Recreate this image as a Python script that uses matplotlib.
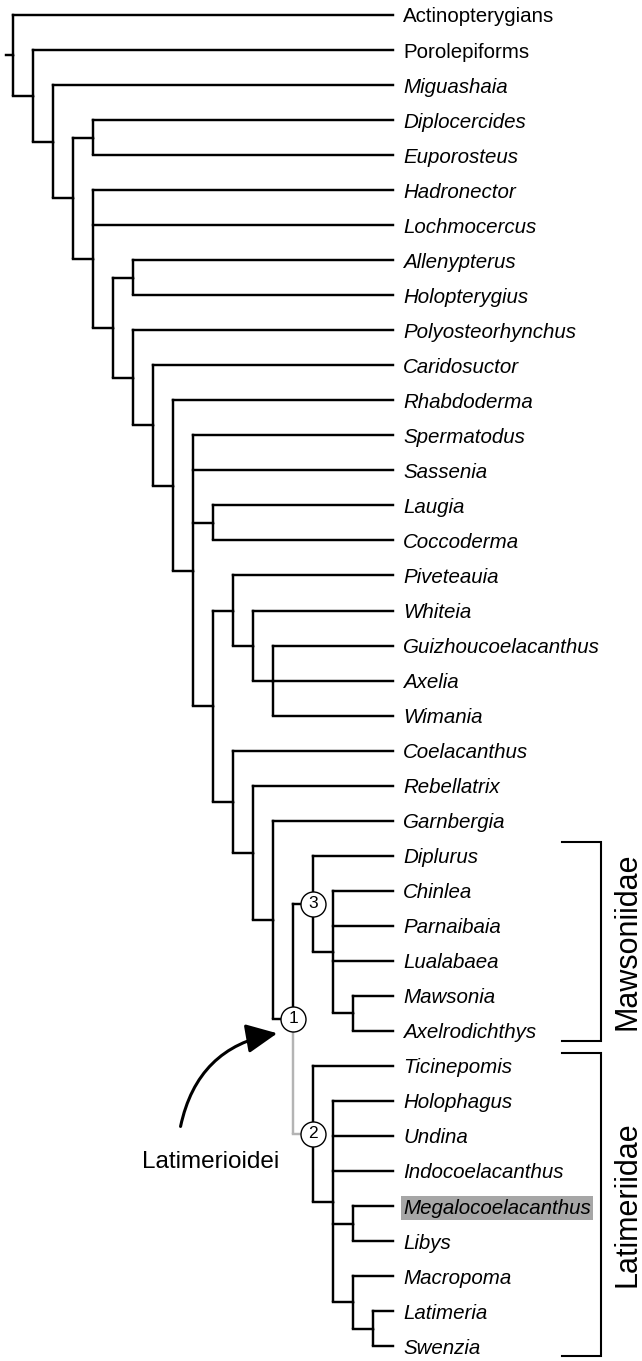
"""Coelacanth cladogram with Latimerioidei nodes circled."""
import matplotlib
matplotlib.use("Agg")
import matplotlib.pyplot as plt
from matplotlib.patches import FancyArrowPatch

plt.rcParams["font.family"] = ["Liberation Sans", "DejaVu Sans"]

# ----- tree topology (nested lists, leaves are taxon names) -----
mawsoniids = ["Diplurus",
              ["Chinlea", "Parnaibaia", "Lualabaea", ["Mawsonia", "Axelrodichthys"]]]
latimeriids = ["Ticinepomis",
               ["Holophagus", "Undina", "Indocoelacanthus",
                ["Megalocoelacanthus", "Libys"],
                ["Macropoma", ["Latimeria", "Swenzia"]]]]
latimerioidei = [mawsoniids, latimeriids]

upper_clade = [["Piveteauia", ["Whiteia", ["Guizhoucoelacanthus", "Axelia", "Wimania"]]],
               ["Coelacanthus", ["Rebellatrix", ["Garnbergia", latimerioidei]]]]

tree = ["Actinopterygians",
        ["Porolepiforms",
         ["Miguashaia",
          [["Diplocercides", "Euporosteus"],
           ["Hadronector", "Lochmocercus",
            [["Allenypterus", "Holopterygius"],
             ["Polyosteorhynchus",
              ["Caridosuctor",
               ["Rhabdoderma",
                ["Spermatodus", "Sassenia", ["Laugia", "Coccoderma"], upper_clade]]]]]]]]]]

roman_taxa = ["Actinopterygians", "Porolepiforms"]
highlight_taxon = "Megalocoelacanthus"
circled = [(latimerioidei, "1"), (latimeriids, "2"), (mawsoniids, "3")]
grey_stem = latimeriids
brackets = [("Mawsoniidae", "Diplurus", "Axelrodichthys"),
            ("Latimeriidae", "Ticinepomis", "Swenzia")]

LEAF_DEPTH = 19
BLACK = "#000000"
GREY = "#b4b4b4"

# ----- layout -----
leaves = []


def collect(node):
    if isinstance(node, str):
        leaves.append(node)
    else:
        for c in node:
            collect(c)


collect(tree)
leaf_y = {name: i for i, name in enumerate(leaves)}

pos = {}  # id(node) -> (x, y)


def layout(node, depth):
    if isinstance(node, str):
        return LEAF_DEPTH, leaf_y[node]
    ys = [layout(c, depth + 1)[1] for c in node]
    y = (ys[0] + ys[-1]) / 2.0
    pos[id(node)] = (depth, y)
    return depth, y


layout(tree, 0)


def xy(node):
    if isinstance(node, str):
        return LEAF_DEPTH, leaf_y[node]
    return pos[id(node)]


fig = plt.figure(figsize=(6.42, 13.61), dpi=100)
ax = fig.add_axes([0, 0, 1, 1])
ax.set_xlim(-13 / 20, (642 - 13) / 20)
ax.set_ylim((1361 - 15) / 35.03, -15 / 35.03)
ax.axis("off")

LW = 1.75


def draw(node):
    if isinstance(node, str):
        return
    x, y = xy(node)
    kids = list(node)
    for k in kids:
        kx, ky = xy(k)
        col = GREY if k is grey_stem else BLACK
        ax.plot([x, kx], [ky, ky], color=col, lw=LW, solid_capstyle="projecting", zorder=2)
    first, last = kids[0], kids[-1]
    ax.plot([x, x], [xy(first)[1], y], color=GREY if first is grey_stem else BLACK,
            lw=LW, solid_capstyle="projecting", zorder=2)
    ax.plot([x, x], [y, xy(last)[1]], color=GREY if last is grey_stem else BLACK,
            lw=LW, solid_capstyle="butt", zorder=2)
    for k in kids:
        draw(k)


draw(tree)
rx, ry = xy(tree)
ax.plot([rx - 0.35, rx], [ry, ry], color=BLACK, lw=LW, zorder=2)

# taxon labels
for name in leaves:
    style = "normal" if name in roman_taxa else "italic"
    bbox = None
    if name == highlight_taxon:
        bbox = dict(boxstyle="square,pad=0.1", facecolor="#a6a6a6", edgecolor="none")
    ax.annotate(name, (LEAF_DEPTH, leaf_y[name]), xytext=(7.2, -5.4),
                textcoords="offset points", va="baseline", ha="left",
                fontsize=14.8, fontstyle=style, bbox=bbox)

# circled nodes
for node, lab in circled:
    x, y = xy(node)
    ax.plot(x, y, "o", ms=18, mfc="white", mec=BLACK, mew=1.0, zorder=4)
    ax.text(x, y, lab, ha="center", va="center", fontsize=12.5, zorder=5)

# clade brackets
for label, top, bottom in brackets:
    y0 = leaf_y[top] - 0.38
    y1 = leaf_y[bottom] + 0.28
    ax.plot([27.45, 29.4, 29.4, 27.45], [y0, y0, y1, y1], color=BLACK, lw=1.5,
            solid_joinstyle="miter", zorder=2)
    ax.text(30.7, (y0 + y1) / 2, label, rotation=90, ha="center", va="center",
            fontsize=22)

# Latimerioidei arrow
nx, ny = xy(latimerioidei)
arrow = FancyArrowPatch((nx - 5.65, ny + 3.15), (nx - 0.65, ny + 0.4),
                        connectionstyle="arc3,rad=-0.35",
                        arrowstyle="-|>,head_length=0.95,head_width=0.45",
                        mutation_scale=20, lw=2.2, color=BLACK, zorder=3)
ax.add_patch(arrow)
ax.text(nx - 4.1, ny + 4.1, "Latimerioidei", ha="center", va="center", fontsize=17.5)

fig.savefig("out.png", dpi=100)
